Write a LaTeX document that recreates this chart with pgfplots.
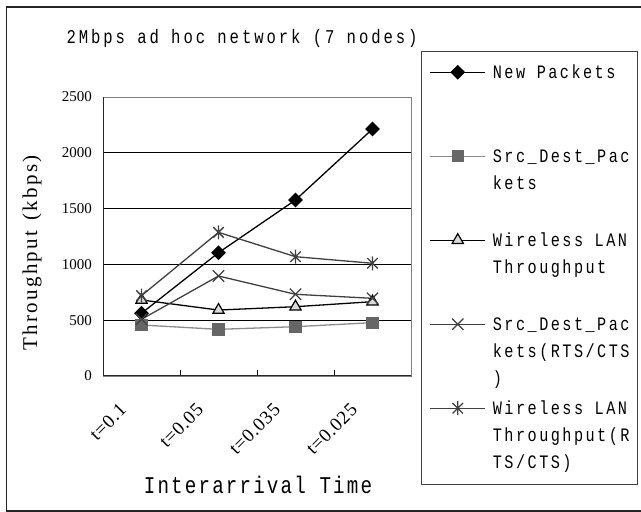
\documentclass[border=0pt]{standalone}
\usepackage{fontspec}
\setmainfont{Liberation Serif}
\newfontfamily\monofont[FakeStretch=0.8, LetterSpace=13]{Liberation Mono}
\newfontfamily\monoT[FakeStretch=0.8, LetterSpace=15]{Liberation Mono}
\newfontfamily\monoB[FakeStretch=0.8, LetterSpace=9]{Liberation Mono}
\newfontfamily\serifwide[LetterSpace=4]{Liberation Serif}
\newfontfamily\serifylab[LetterSpace=11]{Liberation Serif}
\usepackage{pgfplots}
\pgfplotsset{compat=1.18}
\definecolor{srcgray}{HTML}{8C8C8C}
\definecolor{srcfill}{HTML}{666666}
\definecolor{rtsgray}{HTML}{404040}
\definecolor{trifill}{HTML}{DADADA}
\pgfdeclareplotmark{xstar}{%
  \pgfpathmoveto{\pgfqpoint{0pt}{\pgfplotmarksize}}%
  \pgfpathlineto{\pgfqpoint{0pt}{-\pgfplotmarksize}}%
  \pgfpathmoveto{\pgfqpoint{-.75\pgfplotmarksize}{.75\pgfplotmarksize}}%
  \pgfpathlineto{\pgfqpoint{.75\pgfplotmarksize}{-.75\pgfplotmarksize}}%
  \pgfpathmoveto{\pgfqpoint{-.75\pgfplotmarksize}{-.75\pgfplotmarksize}}%
  \pgfpathlineto{\pgfqpoint{.75\pgfplotmarksize}{.75\pgfplotmarksize}}%
  \pgfusepathqstroke}
\newcommand\lgtext[1]{\vtop{\baselineskip=27pt\lineskiplimit=0pt\lineskip=0pt #1}}
\newcommand\lgl[1]{\hbox{#1}}
\begin{document}
\begin{tikzpicture}[x=1pt,y=1pt]
\path[use as bounding box] (0,0) rectangle (641,512);
\draw[line width=1.3pt, black!85] (645,1) -- (6.5,1) -- (6.5,505) -- (645,505);
\node[anchor=west, font=\fontsize{19.5}{20}\selectfont\monoT] at (63,474) {2Mbps ad hoc network (7 nodes)};
\node[font=\fontsize{24}{25}\selectfont\monoB] at (258,27) {Interarrival Time};
\node[rotate=90, font=\fontsize{21}{22}\selectfont\serifylab] at (32,259) {Throughput\hspace{10pt}(kbps)};
\begin{axis}[
  at={(103pt,136pt)}, anchor=south west,
  scale only axis, width=308pt, height=279pt,
  xmin=0, xmax=4, ymin=0, ymax=2500,
  axis line style={draw=gray, line width=0.8pt},
  major tick length=6pt,
  xtick={1,2,3}, xticklabels={}, xtick align=inside, xtick pos=bottom,
  x tick style={black, line width=0.8pt},
  ytick={0,500,1000,1500,2000,2500}, ytick pos=left,
  y tick style={draw=none},
  ymajorgrids, grid style={black, line width=0.7pt},
  extra x ticks={0.5,1.5,2.5,3.5},
  extra x tick labels={t=0.1,t=0.05,t=0.035,t=0.025},
  extra x tick style={major tick length=0pt, grid=none,
    tick label style={xshift=-23pt, yshift=-26pt, rotate=45, anchor=north east, inner sep=0pt,
    font=\fontsize{19}{19}\selectfont\serifwide}},
  /pgf/number format/assume math mode=true,
  scaled y ticks=false,
  yticklabel style={/pgf/number format/1000 sep={}, anchor=east, inner sep=0pt, xshift=-11pt,
    font=\fontsize{15}{15}\selectfont},
  legend cell align=left,
  legend image code/.code={\draw[mark repeat=2,mark phase=2,#1] plot coordinates {(0pt,6pt)(27.5pt,6pt)(55pt,6pt)};},
  legend style={at={(1.0325,1.1649)}, anchor=north west,
    draw=black!75, line width=1.2pt,
    inner xsep=8pt, inner ysep=6.6pt,
    row sep=0pt, column sep=7pt,
    font=\fontsize{19}{27}\selectfont\monofont,
    nodes={inner sep=0pt, text height=20pt, text depth=64pt, anchor=base west}},
]
\addplot[black, line width=1.3pt, mark=square*, mark size=4.6pt, mark options={rotate=45, solid, fill=black}]
  coordinates {(0.5,562) (1.5,1105) (2.5,1577) (3.5,2213)};
\addlegendentry{\lgtext{\lgl{New Packets}}}
\addplot[srcgray, line width=1.3pt, mark=square*, mark size=5.5pt, mark options={draw=srcfill, fill=srcfill}]
  coordinates {(0.5,457) (1.5,418) (2.5,442) (3.5,478)};
\addlegendentry{\lgtext{\lgl{Src\_Dest\_Pac}\lgl{kets}}}
\addplot[black, line width=1.3pt, mark=triangle*, mark size=6.5pt, mark options={draw=black, fill=trifill, line width=1.2pt}]
  coordinates {(0.5,681) (1.5,591) (2.5,621) (3.5,666)};
\addlegendentry{\lgtext{\lgl{Wireless LAN}\lgl{Throughput}}}
\addplot[rtsgray, line width=1.3pt, mark=x, mark size=8pt, mark options={line width=1.3pt}]
  coordinates {(0.5,508) (1.5,896) (2.5,732) (3.5,696)};
\addlegendentry{\lgtext{\lgl{Src\_Dest\_Pac}\lgl{kets(RTS/CTS}\lgl{)}}}
\addplot[rtsgray, line width=1.3pt, mark=xstar, mark size=7pt, mark options={line width=1.3pt}]
  coordinates {(0.5,720) (1.5,1287) (2.5,1069) (3.5,1010)};
\addlegendentry{\lgtext{\lgl{Wireless LAN}\lgl{Throughput(R}\lgl{TS/CTS)}}}
\draw[gray, line width=0.9pt] (axis cs:0,2500) -- (axis cs:4,2500) -- (axis cs:4,0);
\draw[black!85, line width=1.3pt] (axis cs:0,2500) -- (axis cs:0,0) -- (axis cs:4,0);
\end{axis}
\end{tikzpicture}
\end{document}
